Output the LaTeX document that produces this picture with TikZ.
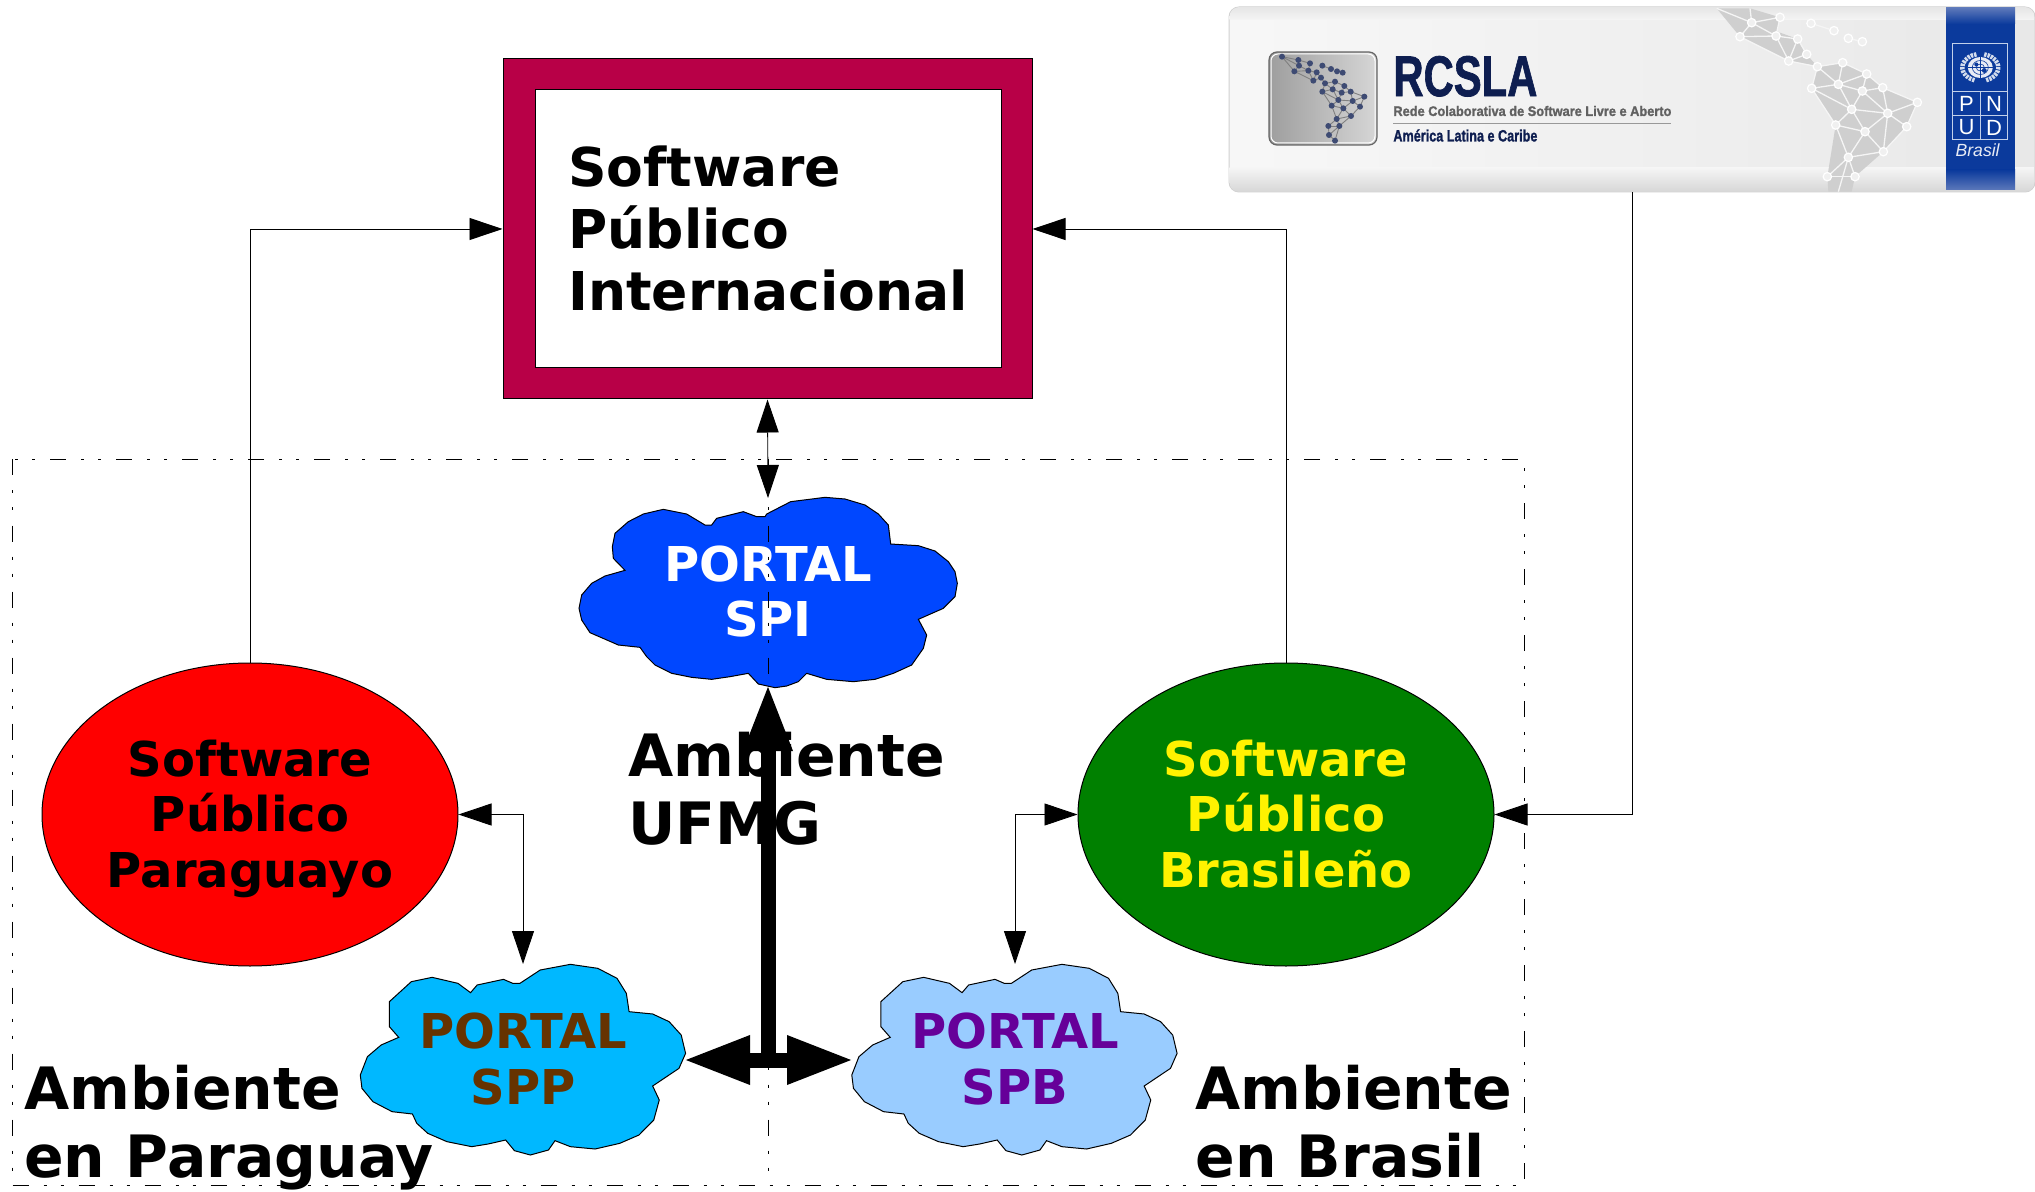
\documentclass[tikz,border=0pt]{standalone}
\usepackage{fontspec}
\usepackage{graphicx}
\setmainfont{DejaVu Sans}
\newfontfamily\lib{Liberation Sans}
\newfontfamily\libfat[UprightFont=* Bold,FakeBold=1.4]{Liberation Sans}
\usetikzlibrary{arrows.meta,shapes.geometric,calc}
\definecolor{framec}{HTML}{B80047}
\definecolor{spic}{HTML}{0047FF}
\definecolor{sppc}{HTML}{00B8FF}
\definecolor{spbc}{HTML}{99CCFF}
\definecolor{sppt}{HTML}{663300}
\definecolor{spbt}{HTML}{660099}
\definecolor{navy}{HTML}{0E1E50}
\definecolor{undp}{HTML}{0B3A9C}
\definecolor{undpl}{HTML}{5C78BA}
\definecolor{undpline}{HTML}{C2D0EA}
\tikzset{
  x=.5pt,y=-.5pt,
  thinline/.style={line width=.45pt,draw=black},
  thinarrow/.style={thinline,{Triangle[length=16.5pt,width=11pt]}-{Triangle[length=16.5pt,width=11pt]}},
  onearrow/.style={thinline,-{Triangle[length=16.5pt,width=11pt]}},
  fatarrow/.style={line width=7.5pt,draw=black},
  fathead/.style={-{Triangle[length=33.5pt,width=22.5pt]}},
  fatboth/.style={{Triangle[length=33.5pt,width=22.5pt]}-{Triangle[length=33.5pt,width=22.5pt]}},
  zonedash/.style={line width=.45pt,draw=black,dash pattern=on 8pt off 7.5pt on 1.5pt off 7pt on 1.5pt off 7.5pt},
  cloudshape/.style={draw=black,line width=.5pt},
  bigtext/.style={inner sep=0pt,align=left,font=\fontsize{26.75}{31}\selectfont\bfseries},
  zonetext/.style={inner sep=0pt,align=left,anchor=base west,font=\fontsize{29.2}{33.9}\selectfont\bfseries},
  celltext/.style={inner sep=0pt,align=center,anchor=base,font=\fontsize{24}{27.65}\selectfont\bfseries},
  pnud/.style={inner sep=0pt,text=white,font=\lib\fontsize{11}{11}\selectfont},
  mapedge/.style={line width=.65pt,draw=white!92!gray},
  mapdot/.style={fill=black!6,draw=white,line width=.6pt},
  logoedge/.style={line width=.45pt,draw=black!50},
  logodot/.style={fill=navy!80},
}
\begin{document}
\begin{tikzpicture}
\useasboundingbox (0,0) rectangle (2035,1192);
\fill[white] (0,0) rectangle (2035,1192);

% zone frame
\draw[zonedash] (12,459.5) rectangle (1524.5,1185);

% main frame
\node[draw=black,line width=.5pt,fill=framec,minimum width=264.5pt,minimum height=170pt,inner sep=0pt] (frame) at (767.5,229) {};
\node[draw=black,line width=.5pt,fill=white,minimum width=233pt,minimum height=139pt,inner sep=0pt] (inner) at (768,229) {};
\node[bigtext,anchor=west] (frametext) at (568,229) {Software\\Público\\Internacional};

% banner
\node[rounded corners=5pt,left color=black!3,right color=black!9,draw=black!18,line width=.5pt,minimum width=403pt,minimum height=92.5pt,inner sep=0pt] (banner) at (1632,99.5) {};
\begin{scope}
  \clip[rounded corners=5pt] (1229.5,7) rectangle (2034.5,192);
  \shade[top color=black!4,bottom color=black!16] (1229,168) rectangle (2036,192);
  \shade[top color=black!10,bottom color=black!4] (1229,7) rectangle (2036,20);
  % map of the banner
  \begin{scope}[shift={(1700,0)},x=.16667pt,y=-.16667pt]
    \foreach \px/\py [count=\i] in {155/68,240/52,120/110,228/108,293/117,320/163,266/183,352/200,428/188,500/222,415/253,335/265,487/273,548/263,652/307,455/328,563/340,620/380,407/375,495/395,550/455,445/472,382/530,465/530,150/25,333/70,402/92,445/115,487/125,415/575}
      \coordinate (m\i) at (\px,\py);
    \fill[black!19] (50,25) -- (m25) -- (m2) -- (232,95) -- (m5) -- (m6) -- (m8) -- (m9) -- (m10) -- (m14) -- (m15) -- (m18) -- (m21) -- (m24) -- (455,575) -- (385,575) -- (m23) -- (m19) -- (m12) -- (m8) -- (m7) -- (m3) -- cycle;
    \foreach \a/\b in {1/2,1/3,1/4,3/4,2/4,4/5,4/7,5/7,5/6,6/7,7/8,8/9,8/11,8/12,9/10,9/11,10/11,10/13,11/12,11/13,11/16,12/16,12/19,13/14,10/14,13/16,13/17,14/15,14/17,15/17,15/18,16/17,16/19,16/20,17/18,17/20,17/21,18/21,19/20,19/22,20/21,20/22,21/22,22/23,22/24,23/24,25/1,26/27,28/29,22/30,3/7}
      \draw[mapedge] (m\a) -- (m\b);
    \coordinate (mstart) at (50,25);
    \draw[mapedge] (mstart) -- (m1);
    \foreach \i in {1,...,24,26,27,28,29}
      \fill[mapdot] (m\i) circle (2.1pt);
  \end{scope}
\end{scope}

% logo square
\draw[rounded corners=4pt,left color=black!38,right color=black!16,draw=black!60,line width=.6pt] (1269,52) rectangle (1377,145);
\draw[rounded corners=3.4pt,draw=white,line width=.5pt] (1271,54) rectangle (1375,143);
\begin{scope}[shift={(1260,40)},x=.16667pt,y=-.16667pt]
  \foreach \px/\py [count=\i] in {66/50,115/60,150/70,117/77,103/94,145/92,170/97,160/122,183/113,195/130,225/125,253/138,187/155,218/148,245/158,272/155,313/170,235/180,278/183,300/200,215/197,250/205,273/228,230/237,205/258,238/258,207/285,225/302,187/77,213/87,231/94,248/98}
    \coordinate (l\i) at (\px,\py);
  \foreach \a/\b in {1/2,1/5,1/4,2/3,2/4,3/6,4/5,4/6,5/6,5/8,6/7,6/8,7/8,7/9,8/9,9/10,10/11,10/13,10/14,11/12,11/14,12/15,12/16,13/14,13/18,14/15,14/18,15/16,15/18,16/17,16/19,17/19,17/20,18/19,18/21,18/22,19/22,19/20,20/23,21/22,21/13,21/24,22/23,22/24,23/24,23/26,24/25,24/26,25/26,25/27,26/27,27/28,26/28,29/30,31/32}
    \draw[logoedge] (l\a) -- (l\b);
  \foreach \i in {1,...,32}
    \fill[logodot] (l\i) circle (1.5pt);
\end{scope}

% banner text
\node[inner sep=0pt,anchor=south west,text=navy] (rcsla) at (1393,97) {\resizebox{72pt}{20pt}{\libfat RCSLA}};
\node[inner sep=0pt,anchor=south west,text=black!62] (rede) at (1393,116.5) {\resizebox{139pt}{5pt}{\libfat Rede Colaborativa de Software Livre e Aberto}};
\coordinate (ruleA) at (1393,123.5);
\coordinate (ruleB) at (1671,123.5);
\draw[black!40,line width=.6pt] (ruleA) -- (ruleB);
\node[inner sep=0pt,anchor=south west,text=navy] (amlat) at (1393,142) {\resizebox{72pt}{6pt}{\libfat América Latina e Caribe}};

% UNDP panel
\fill[undp] (1946,8) rectangle (2015,190);
\shade[top color=undpl,bottom color=undp] (1946,8) rectangle (2015,24);
\shade[top color=undp,bottom color=undpl] (1946,170) rectangle (2015,190);
\draw[undpline,line width=.45pt] (1952.7,43) rectangle (2007.7,139.5);
\draw[undpline,line width=.45pt] (1952.7,91.7) -- (2007.7,91.7);
\draw[undpline,line width=.45pt] (1952.7,115.7) -- (2007.7,115.7);
\draw[undpline,line width=.45pt] (1980,91.7) -- (1980,139.5);
% UN emblem
\coordinate (emb) at (1980.3,67.5);
\draw[white!82!undp,line width=2.2pt,dash pattern=on 1.2pt off .5pt] (emb) ++(109:18 and 13.5) arc[start angle=109,end angle=258,x radius=18,y radius=13.5];
\draw[white!82!undp,line width=2.2pt,dash pattern=on 1.2pt off .5pt] (emb) ++(71:18 and 13.5) arc[start angle=71,end angle=-78,x radius=18,y radius=13.5];
\fill[white!90!undp] (emb) ellipse [x radius=12.5,y radius=10.5];
\draw[undp,line width=.3pt] (emb) ellipse [x radius=8,y radius=7] (emb) ellipse [x radius=4,y radius=3.5];
\draw[undp,line width=.3pt] (emb) ++(-12.5,0) -- ++(25,0);
\draw[undp,line width=.3pt] (emb) ++(0,-10.5) -- ++(0,21);
\fill[undp] (emb) ++(-4,-3) circle (1pt) ++(8,6) circle (1.2pt);
\node[pnud] (pP) at (1966.5,103.7) {P};
\node[pnud] (pN) at (1994,103.7) {N};
\node[pnud] (pU) at (1966.5,127.5) {U};
\node[pnud] (pD) at (1994,127.5) {D};
\node[inner sep=0pt,text=white!90!undp,font=\lib\itshape\fontsize{8.8}{9}\selectfont,anchor=base] (pbr) at (1977.6,157) {Brasil};

% ellipses
\node[ellipse,draw=black,line width=.5pt,fill=red,minimum width=208pt,minimum height=151.5pt,inner sep=0pt] (red) at (250,814.5) {};
\node[ellipse,draw=black,line width=.5pt,fill={rgb,255:red,0;green,128;blue,0},minimum width=208pt,minimum height=151.5pt,inner sep=0pt] (green) at (1286,814.5) {};
\node[celltext,text=black] (redtext) at (250,887) {Software\\Público\\Paraguayo};
\node[celltext,text=yellow] (greentext) at (1286,887) {Software\\Público\\Brasileño};

% clouds
\begin{scope}[shift={(560,390)},x=.16667pt,y=-.16667pt]
  \draw[cloudshape,fill=spic] (620,372)--(692,335)--(795,322)--(855,327)--(915,345)--(955,372)--(985,405)--(992,462)--(1075,467)--(1125,483)--(1165,515)--(1185,545)--(1192,580)--(1185,620)--(1150,655)--(1075,688)--(1100,735)--(1090,775)--(1055,825)--(1000,850)--(945,868)--(880,875)--(800,868)--(740,850)--(715,875)--(680,888)--(645,893)--(595,882)--(565,850)--(510,860)--(455,868)--(395,862)--(335,850)--(285,825)--(260,800)--(240,772)--(175,765)--(90,728)--(65,690)--(57,655)--(65,615)--(95,580)--(135,558)--(195,541)--(160,505)--(157,470)--(165,430)--(205,395)--(250,372)--(310,358)--(380,372)--(435,405)--(455,405)--(470,385)--(550,365)--(590,380)--(615,380)--cycle;
\end{scope}
\foreach \sx/\col in {340/sppc,831.5/spbc}{
\begin{scope}[shift={(\sx,940)},x=.27427pt,y=-.16667pt]
  \draw[cloudshape,fill=\col] (328,130)--(365,90)--(420,73)--(470,85)--(505,115)--(522,160)--(527,215)--(570,222)--(600,245)--(622,285)--(630,340)--(618,385)--(570,438)--(582,480)--(572,540)--(545,585)--(510,610)--(465,627)--(420,620)--(392,602)--(380,630)--(347,645)--(318,632)--(302,600)--(270,612)--(240,620)--(195,605)--(160,580)--(140,550)--(132,522)--(95,515)--(60,485)--(40,445)--(37,405)--(50,350)--(75,315)--(107,292)--(90,260)--(90,185)--(130,125)--(168,112)--(215,130)--(238,158)--(250,135)--(298,118)--(315,130)--cycle;
\end{scope}}
\node[celltext,text=white] (spitext) at (768,636.7) {PORTAL\\SPI};
\node[celltext,text=sppt] (spptext) at (523,1104) {PORTAL\\SPP};
\node[celltext,text=spbt] (spbtext) at (1015,1104) {PORTAL\\SPB};

\coordinate (spitop) at (768,498);
\coordinate (spibot) at (768,684);
\coordinate (spptop) at (523,964);
\coordinate (spbtop) at (1015,964);
\coordinate (sppright) at (683,1060);
\coordinate (spbleft) at (854,1060);
\coordinate (junction) at (768,1060);
\coordinate (vtop) at (768,459.5);
\coordinate (vbot) at (768,1185);

% connectors
\draw[onearrow] (red.north) |- (frame.west);
\draw[onearrow] (green.north) |- (frame.east);
\draw[thinarrow] (frame.south) -- (spitop);
\draw[onearrow] (banner.south) |- (green.east);
\draw[thinarrow] (red.east) -| (spptop);
\draw[thinarrow] (green.west) -| (spbtop);
\draw[fatarrow,fathead] (junction) -- (spibot);
\draw[fatarrow,fatboth] (sppright) -- (spbleft);
\draw[zonedash] (vtop) -- (vbot);

% zone labels
\node[zonetext] (zufmg) at (628,844) {Ambiente\\UFMG};
\node[zonetext] (zpar) at (24,1177) {Ambiente\\en Paraguay};
\node[zonetext] (zbra) at (1195,1177) {Ambiente\\en Brasil};
\end{tikzpicture}
\end{document}
